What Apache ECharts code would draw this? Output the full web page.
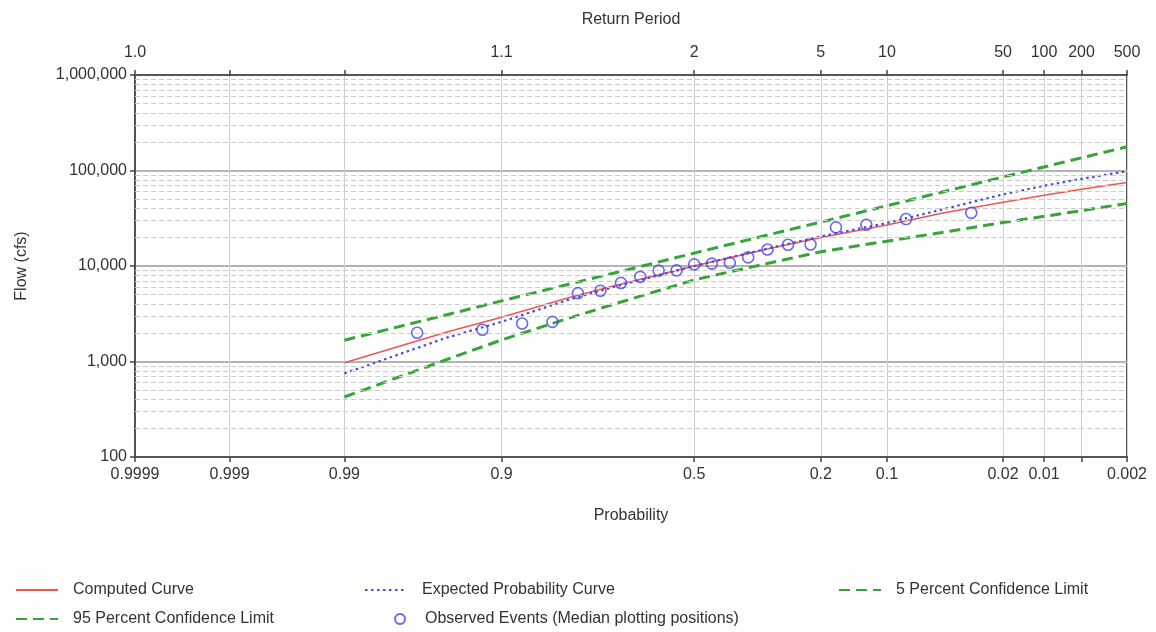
<!DOCTYPE html>
<html><head><meta charset="utf-8">
<script src="https://cdn.jsdelivr.net/npm/echarts@6/dist/echarts.min.js"></script>
<style>html,body{margin:0;padding:0;background:#fff}#c{width:1156px;height:632px}</style>
</head><body><div id="c"></div>
<script>
// ---- tick definitions (exceedance probability) ----
const probTicks = [0.9999, 0.999, 0.99, 0.9, 0.5, 0.2, 0.1, 0.02, 0.01, 0.005, 0.002];
const probLabels = ['0.9999', '0.999', '0.99', '0.9', '0.5', '0.2', '0.1', '0.02', '0.01', '', '0.002'];
const returnPeriodLabels = ['1.0', '', '', '1.1', '2', '5', '10', '50', '100', '200', '500'];

// ---- frequency curves ----
const curveProb = [0.99, 0.95, 0.9, 0.8, 0.7, 0.5, 0.3, 0.2, 0.1, 0.05, 0.02, 0.01, 0.005, 0.002];
const computedCurve = [970, 2040, 2900, 4620, 6240, 10000, 15500, 19900, 26900, 35600, 46600, 55000, 63600, 75000];
const expectedCurve = [750, 1780, 2600, 4400, 6100, 10000, 15700, 20400, 28200, 38900, 56200, 69200, 81800, 98200];
const conf5Curve = [1670, 3090, 4310, 6400, 8510, 13650, 21800, 28800, 42700, 59300, 85500, 109000, 136000, 177000];
const conf95Curve = [425, 1050, 1680, 2820, 4030, 7160, 10960, 14100, 18200, 22400, 28500, 33100, 38000, 45200];

// ---- observed events (median plotting positions) ----
const obsProb = [0.0327, 0.0794, 0.1262, 0.1729, 0.2196, 0.2664, 0.3131, 0.3598, 0.4065, 0.4533, 0.5000,
                 0.5467, 0.5935, 0.6402, 0.6869, 0.7336, 0.7804, 0.8271, 0.8738, 0.9206, 0.9673];
const obsFlow = [36000, 31000, 27000, 25400, 16800, 16700, 14900, 12300, 10800, 10600, 10400,
                 9000, 8950, 7700, 6650, 5500, 5200, 2600, 2500, 2150, 2000];

const yDecades = [100, 1000, 10000, 100000];
const yMinorMult = [2, 3, 4, 5, 6, 7, 8, 9];

// inverse standard normal CDF (Acklam)
function normInv(p) {
  const a = [-3.969683028665376e+01, 2.209460984245205e+02, -2.759285104469687e+02, 1.383577518672690e+02, -3.066479806614716e+01, 2.506628277459239e+00];
  const b = [-5.447609879822406e+01, 1.615858368580409e+02, -1.556989798598866e+02, 6.680131188771972e+01, -1.328068155288572e+01];
  const c = [-7.784894002430293e-03, -3.223964580411365e-01, -2.400758277161838e+00, -2.549732539343734e+00, 4.374664141464968e+00, 2.938163982698783e+00];
  const d = [7.784695709041462e-03, 3.224671290700398e-01, 2.445134137142996e+00, 3.754408661907416e+00];
  const pl = 0.02425, ph = 1 - pl;
  let q, r;
  if (p < pl) {
    q = Math.sqrt(-2 * Math.log(p));
    return (((((c[0]*q+c[1])*q+c[2])*q+c[3])*q+c[4])*q+c[5]) / ((((d[0]*q+d[1])*q+d[2])*q+d[3])*q+1);
  } else if (p <= ph) {
    q = p - 0.5; r = q * q;
    return (((((a[0]*r+a[1])*r+a[2])*r+a[3])*r+a[4])*r+a[5])*q / (((((b[0]*r+b[1])*r+b[2])*r+b[3])*r+b[4])*r+1);
  } else {
    q = Math.sqrt(-2 * Math.log(1 - p));
    return -(((((c[0]*q+c[1])*q+c[2])*q+c[3])*q+c[4])*q+c[5]) / ((((d[0]*q+d[1])*q+d[2])*q+d[3])*q+1);
  }
}
const zOf = p => normInv(1 - p);

const tickZ = probTicks.map(zOf);
const zMin = tickZ[0], zMax = tickZ[tickZ.length - 1];
function labelFor(v, labels) {
  let best = -1, bd = 1e9;
  tickZ.forEach((z, i) => { const dd = Math.abs(z - v); if (dd < bd) { bd = dd; best = i; } });
  return bd < 1e-4 ? labels[best] : '';
}
const fmtThousands = v => String(Math.round(v)).replace(/\B(?=(\d{3})+(?!\d))/g, ',');
const minorLines = [];
yDecades.forEach(dv => yMinorMult.forEach(m => minorLines.push({ yAxis: m * dv })));

const FONT = '"Liberation Sans", Arial, sans-serif';
const TXT = { fontSize: 16, color: '#333', fontFamily: FONT };

const curve = vals => curveProb.map((p, i) => [zOf(p), vals[i]]);

const legendCommon = {
  orient: 'horizontal', padding: 0, itemWidth: 42, itemHeight: 14, selectedMode: false,
  itemStyle: { opacity: 0 },
  textStyle: Object.assign({}, TXT, { padding: [0, 0, 0, 10] })
};

const chart = echarts.init(document.getElementById('c'), null, { renderer: 'canvas' });
chart.setOption({
  animation: false,
  backgroundColor: '#fff',
  grid: { left: 135, right: 29, top: 75, bottom: 175, show: true, borderColor: '#555', borderWidth: 2,
          backgroundColor: '#fff', containLabel: false, outerBoundsMode: 'none' },
  legend: [
    Object.assign({}, legendCommon, { data: ['Computed Curve'], left: 15, top: 582 }),
    Object.assign({}, legendCommon, { data: ['Expected Probability Curve'], left: 364, top: 582 }),
    Object.assign({}, legendCommon, { data: ['5 Percent Confidence Limit'], left: 838, top: 582 }),
    Object.assign({}, legendCommon, { data: ['95 Percent Confidence Limit'], left: 15, top: 611 }),
    Object.assign({}, legendCommon, { data: ['Observed Events (Median plotting positions)'], left: 394, top: 611,
      itemWidth: 40, itemHeight: 10, itemStyle: {},
      textStyle: Object.assign({}, TXT, { padding: [0, 0, 0, 0] }) })
  ],
  xAxis: [
    {
      type: 'value', position: 'bottom', min: zMin, max: zMax,
      name: 'Probability', nameLocation: 'middle', nameGap: 51, nameTextStyle: TXT,
      axisLine: { show: true, onZero: false, lineStyle: { color: '#555', width: 2 } },
      axisTick: { show: true, customValues: tickZ, length: 5, lineStyle: { color: '#444', width: 1.5 } },
      axisLabel: Object.assign({}, TXT, { customValues: tickZ.filter((z, i) => probLabels[i] !== ''),
        formatter: v => labelFor(v, probLabels), margin: 10, hideOverlap: false }),
      splitLine: { show: true, lineStyle: { color: '#cfcfcf', width: 1 } }
    },
    {
      type: 'value', position: 'top', min: zMin, max: zMax,
      name: 'Return Period', nameLocation: 'middle', nameGap: 47, nameTextStyle: TXT,
      axisLine: { show: true, onZero: false, lineStyle: { color: '#555', width: 2 } },
      axisTick: { show: true, customValues: tickZ, length: 5, lineStyle: { color: '#444', width: 1.5 } },
      axisLabel: Object.assign({}, TXT, { customValues: tickZ.filter((z, i) => returnPeriodLabels[i] !== ''),
        formatter: v => labelFor(v, returnPeriodLabels), margin: 14, hideOverlap: false }),
      splitLine: { show: false }
    }
  ],
  yAxis: {
    type: 'log', logBase: 10, min: 100, max: 1000000,
    name: 'Flow (cfs)', nameLocation: 'middle', nameGap: 105, nameTextStyle: TXT,
    axisLine: { show: true, onZero: false, lineStyle: { color: '#555', width: 2 } },
    axisTick: { show: true, length: 5, lineStyle: { color: '#444', width: 1.5 } },
    axisLabel: Object.assign({}, TXT, { formatter: fmtThousands, margin: 8 }),
    splitLine: { show: true, lineStyle: { color: '#b4b4b4', width: 2 } },
    minorTick: { show: false }, minorSplitLine: { show: false }
  },
  series: [
    {
      name: '_minor', type: 'line', data: [], z: 1, silent: true,
      markLine: { silent: true, symbol: ['none', 'none'], label: { show: false },
        lineStyle: { color: '#cccccc', width: 1, type: [5, 3] }, emphasis: { disabled: true },
        data: minorLines, animation: false }
    },
    {
      name: 'Computed Curve', type: 'line', data: curve(computedCurve), symbol: 'none', z: 3,
      lineStyle: { color: '#ee5555', width: 1.5 }, itemStyle: { color: '#ee5555' }
    },
    {
      name: 'Expected Probability Curve', type: 'line', data: curve(expectedCurve), symbol: 'none', z: 3,
      lineStyle: { color: '#4a4ad6', width: 2.2, type: [2.5, 3.5] }, itemStyle: { color: '#4a4ad6' }
    },
    {
      name: '5 Percent Confidence Limit', type: 'line', data: curve(conf5Curve), symbol: 'none', z: 4,
      lineStyle: { color: '#35a535', width: 3, type: [11, 6] }, itemStyle: { color: '#35a535' }
    },
    {
      name: '95 Percent Confidence Limit', type: 'line', data: curve(conf95Curve), symbol: 'none', z: 4,
      lineStyle: { color: '#35a535', width: 3, type: [11, 6] }, itemStyle: { color: '#35a535' }
    },
    {
      name: 'Observed Events (Median plotting positions)', type: 'scatter', z: 5,
      data: obsProb.map((p, i) => [zOf(p), obsFlow[i]]),
      symbol: 'circle', symbolSize: 11,
      itemStyle: { color: 'rgba(255,255,255,0)', borderColor: '#4545e8', borderWidth: 1.6 }
    }
  ]
});
</script></body></html>
